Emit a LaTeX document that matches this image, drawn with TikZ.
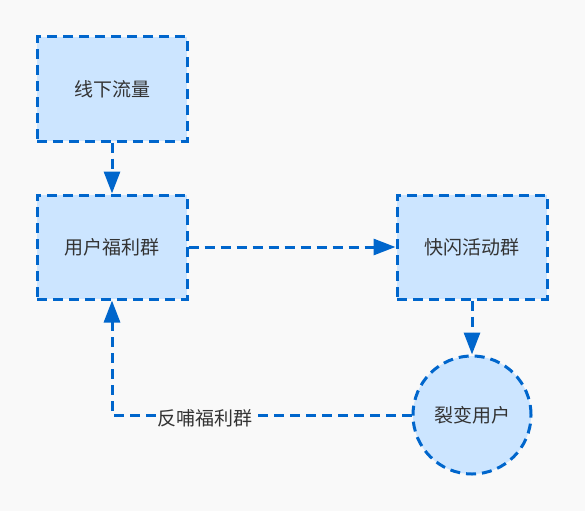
\documentclass[tikz,border=0pt]{standalone}
\usepackage{fontspec}
\setmainfont{Noto Sans CJK SC}
\usetikzlibrary{arrows.meta}
\definecolor{bgc}{HTML}{F9F9F9}
\definecolor{strk}{HTML}{0066CC}
\definecolor{fillc}{HTML}{CCE5FF}
\definecolor{txt}{HTML}{333333}
\tikzset{
  flow/.style={draw=strk, line width=3pt, dash pattern=on 10pt off 6pt, fill=fillc, text=txt, font=\fontsize{19pt}{22pt}\selectfont, inner sep=0pt},
  boxnode/.style={flow, rectangle, minimum width=150pt, minimum height=104pt},
  circnode/.style={flow, circle, minimum size=118pt},
  conn/.style={draw=strk, line width=3pt, dash pattern=on 10pt off 6pt, -{Triangle[length=22pt,width=16pt]}},
  lbl/.style={fill=bgc, text=txt, font=\fontsize{19pt}{22pt}\selectfont, inner sep=1pt}
}
\begin{document}
\begin{tikzpicture}[x=1pt,y=-1pt]
\fill[bgc] (0,0) rectangle (585,511);
\useasboundingbox (0,0) rectangle (585,511);
\node[boxnode] (a) at (112,89) {线下流量};
\node[boxnode] (b) at (112,247) {用户福利群};
\node[boxnode] (c) at (472,247) {快闪活动群};
\node[circnode] (d) at (472,415) {裂变用户};
\draw[conn] (a) -- (b);
\draw[conn] (b) -- (c);
\draw[conn] (c) -- (d);
\draw[conn] (d.west) -| node[lbl, pos=0.345, yshift=-3pt] (l) {反哺福利群} (b.south);
\end{tikzpicture}
\end{document}
